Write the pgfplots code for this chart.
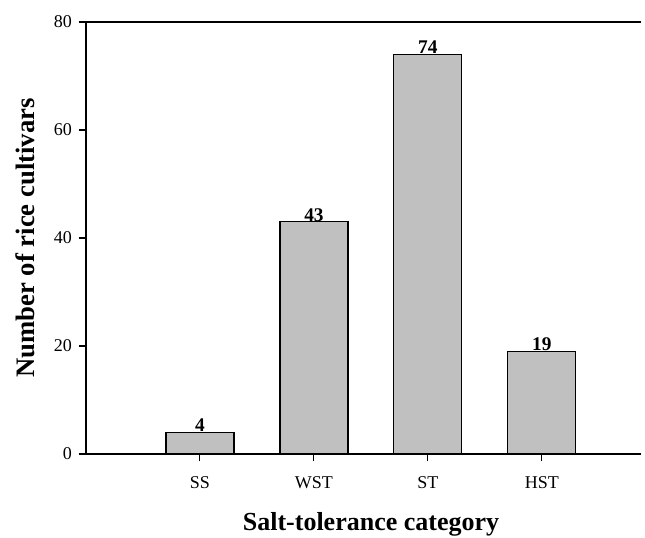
\documentclass[border=0pt]{standalone}
\usepackage{fontspec}
\setmainfont{Liberation Serif}
\usepackage{pgfplots}
\pgfplotsset{compat=1.18}
\definecolor{barfill}{RGB}{192,192,192}
\begin{document}
\begin{tikzpicture}
\begin{axis}[
    scale only axis,
    width=416.25pt, height=324pt,
    xmin=0, xmax=4.87, ymin=0, ymax=80,
    axis x line=box, axis y line=left,
    axis line style={-, line width=0.9pt},
    ybar, bar width=51pt,
    xtick={1,2,3,4}, xticklabels={SS,WST,ST,HST},
    ytick={0,20,40,60,80},
    tick align=outside, xtick pos=left, ytick pos=left,
    major tick length=5.5pt,
    tick style={black, line width=0.8pt},
    ticklabel style={font=\fontsize{13.5}{16}\selectfont},
    /pgf/number format/assume math mode=true,
    xticklabel style={yshift=-8pt},
    yticklabel style={xshift=-1.5pt},
    xlabel={Salt-tolerance category},
    ylabel={Number of rice cultivars},
    every axis x label/.style={at={(axis description cs:0.5135,-0.162)}, anchor=center,
        font=\fontsize{19.5}{22}\selectfont\bfseries},
    every axis y label/.style={at={(axis description cs:-0.11,0.5)}, rotate=90, anchor=center,
        font=\fontsize{20}{22}\selectfont\bfseries},
    nodes near coords,
    every node near coord/.append style={font=\fontsize{14.5}{16}\selectfont\bfseries, inner sep=0pt, anchor=south},
]
\addplot[fill=barfill, draw=black, line width=0.9pt] coordinates {
    (1,4) (2,43) (3,74) (4,19)
};
\coordinate (ll) at (rel axis cs:0,0);
\coordinate (ur) at (rel axis cs:1,1);
\end{axis}
\pgfresetboundingbox
\path[use as bounding box] ([xshift=-64.5pt,yshift=-63pt]ll) rectangle ([xshift=3pt,yshift=16.5pt]ur);
\end{tikzpicture}
\end{document}
